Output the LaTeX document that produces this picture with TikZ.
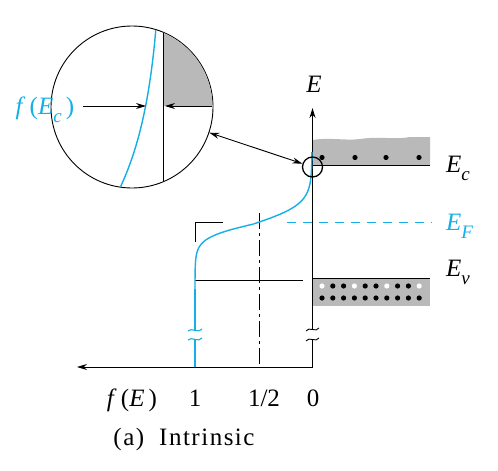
\documentclass[tikz,border=0pt]{standalone}
\usepackage{fontspec}
\setmainfont{Liberation Serif}
\usetikzlibrary{arrows.meta}
\definecolor{ecyan}{RGB}{20,175,230}
\definecolor{bandgray}{RGB}{185,185,185}
\newcommand\esub[1]{\raisebox{-0.32em}{\fontsize{19}{19}\selectfont\textit{#1}}}
\tikzset{
  lbl/.style={font=\fontsize{25}{29}\selectfont, inner sep=0pt},
  ax/.style={line width=0.9pt},
  fcurve/.style={ecyan, line width=1.4pt},
  tip/.style={-{Stealth[length=10pt,width=6pt]}},
  dot/.style={fill=black},
  hole/.style={fill=white},
}
\begin{document}
\begin{tikzpicture}[x=1pt,y=-1pt]
\useasboundingbox (0,0) rectangle (498,471);

% ---------- magnifier ----------
\node[circle, draw, line width=0.9pt, minimum size=162pt, inner sep=0pt] (mag) at (132,107) {};
\begin{scope}
  \clip (132,107) circle (80.5);
  \fill[bandgray] (163,0) rectangle (230,106);
  \draw[ax] (163,0) -- (163,200);
  \draw[fcurve] (157,15) .. controls (150,110) and (135,160) .. (114,200);
\end{scope}
\coordinate (fl) at (83,106);
\coordinate (fr) at (146,106);
\coordinate (gl) at (212,106);
\coordinate (gr) at (165,106);
\draw[ax, tip] (fl) -- (fr);
\draw[ax, tip] (gl) -- (gr);
\node[lbl, text=ecyan, anchor=base] (fEc) at (45,114) {\textit{f}\,(\textit{E}\esub{c}\,)};

% ---------- conduction band ----------
\fill[bandgray] (313,165) -- (313,140) .. controls (330,137) and (345,141) .. (360,139)
  .. controls (380,136) and (395,140) .. (410,137) -- (430,137) -- (430,165) -- cycle;
\draw[ax] (312.5,165) -- (430,165);
\foreach \xx in {322,355,386,419} \fill[dot] (\xx,157.5) circle (2.6);
\node[lbl, anchor=base west] (Ec) at (446,172) {\textit{E}\esub{c}};

% ---------- valence band ----------
\fill[bandgray] (313,278) rectangle (430,306);
\draw[ax] (313,278) -- (430,278);
\foreach \i in {0,...,9} {
  \pgfmathsetmacro{\xx}{322+10.8*\i}
  \fill[dot] (\xx,298) circle (2.6);
}
\foreach \i in {1,2,4,5,7,8} {
  \pgfmathsetmacro{\xx}{322+10.8*\i}
  \fill[dot] (\xx,286) circle (2.6);
}
\foreach \i in {0,3,6,9} {
  \pgfmathsetmacro{\xx}{322+10.8*\i}
  \fill[hole] (\xx,286) circle (2.6);
}
\node[lbl, anchor=base west] (Ev) at (446,276) {\textit{E}\esub{v}};
\draw[ax] (195,280) -- (303,280);

% ---------- Fermi level ----------
\draw[ecyan, line width=0.9pt, dash pattern=on 9pt off 7pt] (287,222) -- (432,222);
\node[lbl, anchor=base west, text=ecyan] (EF) at (446,230) {\textit{E}\esub{F}};

% ---------- axes ----------
\coordinate (Etop) at (312.5,108);
\coordinate (Ebrk) at (312.5,329);
\coordinate (Ebrk2) at (312.5,339);
\coordinate (O) at (312.5,367);
\coordinate (Fleft) at (77,367);
\draw[ax, tip] (Ebrk) -- (Etop);
\draw[ax, tip] (Ebrk2) -- (O) -- (Fleft);
\draw[ax] (306,331) .. controls (309,326) and (316,333) .. (319,328);
\draw[ax] (306,341) .. controls (309,336) and (316,343) .. (319,338);
\node[lbl, anchor=base] (Elab) at (314,92) {\textit{E}};

% half line and bracket
\draw[line width=0.8pt, dash pattern=on 16pt off 4pt on 3pt off 4pt] (259,213) -- (259,367);
\draw[ax] (195,242) -- (195,222) -- (223,222);

% ---------- Fermi function ----------
\draw[fcurve] plot[domain=152:224, samples=60] ({312-117/(1+exp((224-\x)/10))}, \x);
\draw[fcurve] plot[domain=224:290, samples=60] ({312-117/(1+exp((224-\x)/7))}, \x);
\draw[fcurve] (195,289) -- (195,330);
\draw[fcurve] (195,339) -- (195,367);
\draw[fcurve, line width=1.1pt] (188,331) .. controls (191,327) and (199,334) .. (202,329);
\draw[fcurve, line width=1.1pt] (188,340) .. controls (191,336) and (199,343) .. (202,338);

% ---------- connector ----------
\node[circle, draw, line width=1.3pt, minimum size=20pt, inner sep=0pt] (spot) at (312.5,167) {};
\draw[ax, {Stealth[length=10pt,width=6pt]}-{Stealth[length=10pt,width=6pt]}] (mag) -- (spot);

% ---------- labels ----------
\node[lbl, anchor=base] (fE) at (132,406) {\textit{f}\,(\textit{E}\,)};
\node[lbl, anchor=base] (one) at (195,406) {1};
\node[lbl, anchor=base] (half) at (264,406) {1/2};
\node[lbl, anchor=base] (zero) at (313,406) {0};
\node[lbl, anchor=base] (cap) at (184,445) {\addfontfeature{LetterSpace=6}(a)\hspace{0.6em}Intrinsic};
\end{tikzpicture}
\end{document}
